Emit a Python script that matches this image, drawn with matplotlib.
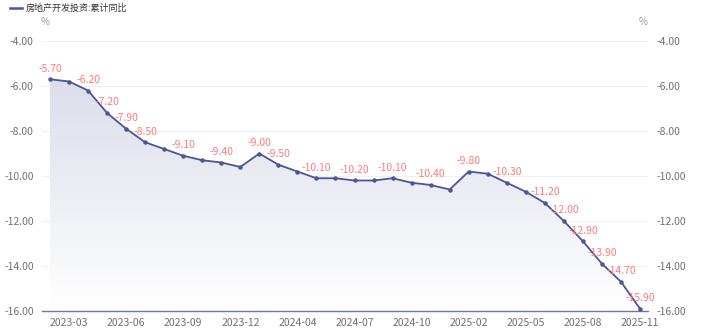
import numpy as np
import matplotlib
matplotlib.use('Agg')
import matplotlib.pyplot as plt
from matplotlib.patches import Polygon

plt.rcParams['font.family'] = ['Noto Sans CJK SC', 'DejaVu Sans']

# 房地产开发投资 累计同比 (%)
months = ['2023-02', '2023-03', '2023-04', '2023-05', '2023-06', '2023-07', '2023-08',
          '2023-09', '2023-10', '2023-11', '2023-12', '2024-02', '2024-03', '2024-04',
          '2024-05', '2024-06', '2024-07', '2024-08', '2024-09', '2024-10', '2024-11',
          '2024-12', '2025-02', '2025-03', '2025-04', '2025-05', '2025-06', '2025-07',
          '2025-08', '2025-09', '2025-10', '2025-11']
values = [-5.7, -5.8, -6.2, -7.2, -7.9, -8.5, -8.8, -9.1, -9.3, -9.4, -9.6, -9.0, -9.5,
          -9.8, -10.1, -10.1, -10.2, -10.2, -10.1, -10.3, -10.4, -10.6, -9.8, -9.9,
          -10.3, -10.7, -11.2, -12.0, -12.9, -13.9, -14.7, -15.9]
# 显示数值标签的月份（其余因重叠被隐藏）
labeled = ['2023-02', '2023-04', '2023-05', '2023-06', '2023-07', '2023-09', '2023-11',
           '2024-02', '2024-03', '2024-05', '2024-07', '2024-09', '2024-11', '2025-02',
           '2025-04', '2025-06', '2025-07', '2025-08', '2025-09', '2025-10', '2025-11']
xticks = ['2023-03', '2023-06', '2023-09', '2023-12', '2024-04', '2024-07', '2024-10',
          '2025-02', '2025-05', '2025-08', '2025-11']
series_name = '房地产开发投资:累计同比'

line_color = '#4b5597'
label_color = '#ff7a7a'
text_color = '#6e7079'
ymin, ymax = -16, -4

fig = plt.figure(figsize=(7.03, 3.33), dpi=100)
ax = fig.add_axes([42 / 703, 1 - 311 / 333, (648 - 42) / 703, (311 - 41) / 333])

x = np.arange(len(months))
ax.set_xlim(-0.42, len(months) - 1 + 0.42)
ax.set_ylim(ymin, ymax)

# 面积渐变填充
verts = [(x[0], ymin)] + list(zip(x, values)) + [(x[-1], ymin)]
poly = Polygon(verts, closed=True, facecolor='none', edgecolor='none')
ax.add_patch(poly)
grad = np.linspace(0, 1, 256).reshape(-1, 1)
top = np.array([0.86, 0.87, 0.92])
bottom = np.array([1.0, 1.0, 1.0])
img = top + (bottom - top) * grad[..., None]
img = np.repeat(img, 2, axis=1)
im = ax.imshow(img, extent=[x[0], x[-1], ymin, max(values)], aspect='auto',
               origin='upper', zorder=1)
im.set_clip_path(poly)

ax.plot(x, values, color=line_color, lw=1.3, marker='o', ms=2.2, zorder=3)

for m in labeled:
    i = months.index(m)
    ax.annotate('%.2f' % values[i], (x[i], values[i]), xytext=(0, 4),
                textcoords='offset points', ha='center', va='bottom',
                fontsize=7.5, color=label_color, zorder=4)

# 网格与坐标轴
yt = np.arange(ymin, ymax + 0.1, 2)
ax.set_yticks(yt)
ax.set_yticklabels(['%.2f' % v for v in yt])
ax.grid(axis='y', color='#eef0f5', lw=0.8)
ax.set_axisbelow(True)
for s in ['top', 'left', 'right']:
    ax.spines[s].set_visible(False)
ax.spines['bottom'].set_color('#6d77a8')
ax.spines['bottom'].set_linewidth(1)
ax.set_xticks([months.index(t) for t in xticks])
ax.set_xticklabels(xticks)
ax.tick_params(axis='x', length=0, pad=5, labelsize=7.5, labelcolor=text_color)
ax.tick_params(axis='y', length=0, pad=6, labelsize=7.5, labelcolor=text_color,
               right=True, labelright=True)

fig.text(45 / 703, 1 - 22 / 333, '%', fontsize=7, color='#999999', ha='center', va='center')
fig.text(643 / 703, 1 - 22 / 333, '%', fontsize=7, color='#999999', ha='center', va='center')

# 图例
fig.add_artist(plt.Line2D([10 / 703, 22 / 703], [1 - 8 / 333, 1 - 8 / 333],
                          color=line_color, lw=1.8))
fig.text(26 / 703, 1 - 8 / 333, series_name, fontsize=6.5, color='#333333', va='center')

fig.savefig('out.png', dpi=100)
